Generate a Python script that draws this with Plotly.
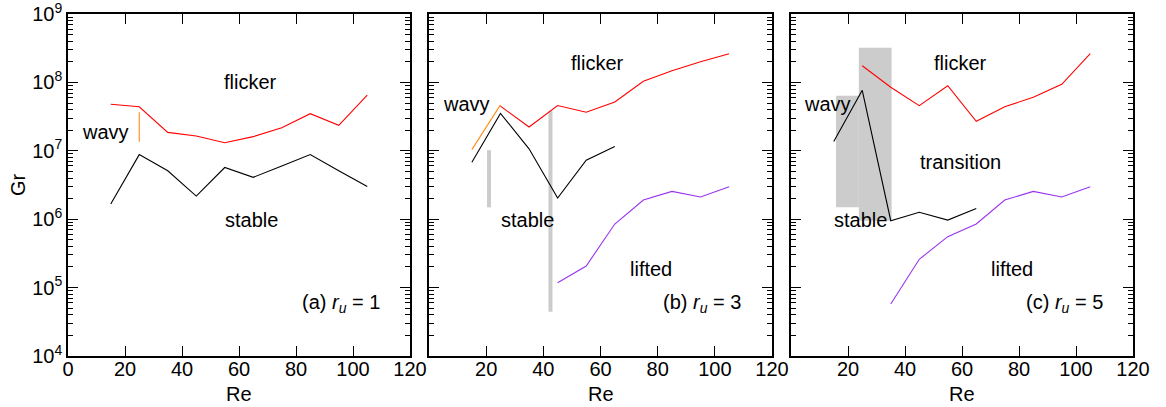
import plotly.graph_objects as go
import numpy as np

# ---------------- data ----------------
# panel (a) r_u = 1
a_flicker_re = [15, 25, 35, 45, 55, 65, 75, 85, 95, 105]
a_flicker_gr = [4.8e7, 4.4e7, 1.86e7, 1.65e7, 1.31e7, 1.61e7, 2.18e7, 3.49e7, 2.36e7, 6.5e7]
a_stable_re = [15, 25, 35, 45, 55, 65, 75, 85, 95, 105]
a_stable_gr = [1.67e6, 8.8e6, 5.1e6, 2.18e6, 5.7e6, 4.1e6, 6.0e6, 8.8e6, 5.1e6, 3.0e6]
a_wavy_re = [25, 25]
a_wavy_gr = [1.36e7, 3.66e7]

# panel (b) r_u = 3
b_flicker_re = [25, 35, 45, 55, 65, 75, 85, 95, 105]
b_flicker_gr = [4.5e7, 2.23e7, 4.6e7, 3.66e7, 5.17e7, 1.04e8, 1.48e8, 2.01e8, 2.63e8]
b_wavy_re = [15, 25]
b_wavy_gr = [1.04e7, 4.7e7]
b_stable_re = [15, 25, 35, 45, 55, 65]
b_stable_gr = [6.8e6, 3.53e7, 1.07e7, 2.04e6, 7.3e6, 1.16e7]
b_lifted_re = [45, 55, 65, 75, 85, 95, 105]
b_lifted_gr = [1.18e5, 2.07e5, 8.5e5, 1.91e6, 2.55e6, 2.11e6, 2.99e6]
b_bar1_re = [21.0, 21.0]
b_bar1_gr = [1.49e6, 1.02e7]
b_bar2_re = [42.5, 42.5]
b_bar2_gr = [4.44e4, 3.82e7]

# panel (c) r_u = 5
c_flicker_re = [25, 35, 45, 55, 65, 75, 85, 95, 105]
c_flicker_gr = [1.75e8, 8.5e7, 4.57e7, 8.95e7, 2.7e7, 4.42e7, 6.05e7, 9.4e7, 2.63e8]
c_stable_re = [15, 25, 35, 45, 55, 65]
c_stable_gr = [1.37e7, 7.66e7, 9.5e5, 1.26e6, 9.7e5, 1.43e6]
c_lifted_re = [35, 45, 55, 65, 75, 85, 95, 105]
c_lifted_gr = [5.75e4, 2.59e5, 5.56e5, 8.5e5, 1.91e6, 2.55e6, 2.11e6, 2.99e6]
c_box1_re = [15.8, 23.8]
c_box1_gr = [1.49e6, 6.4e7]
c_box2_re = [23.8, 35.3]
c_box2_gr = [9.5e5, 3.22e8]

x_ticks_a = [0, 20, 40, 60, 80, 100, 120]
x_ticks_bc = [20, 40, 60, 80, 100, 120]
y_decades = [1e4, 1e5, 1e6, 1e7, 1e8, 1e9]
y_ticktext = ["10<sup>4</sup>", "10<sup>5</sup>", "10<sup>6</sup>", "10<sup>7</sup>",
              "10<sup>8</sup>", "10<sup>9</sup>"]
y_minor = [m * d for d in y_decades[:-1] for m in range(2, 10)]

# ---------------- style ----------------
FONT = "Liberation Sans, Arial, Helvetica, sans-serif"
FS = 20
RED = "#ff0000"
BLACK = "#000000"
ORANGE = "#ff8c1a"
PURPLE = "#9933ee"
GREY = "#cccccc"

fig = go.Figure()


def line(x, y, color, xa, ya, width=1.1):
    fig.add_trace(go.Scatter(x=x, y=y, mode="lines", line=dict(color=color, width=width),
                             xaxis=xa, yaxis=ya, showlegend=False, hoverinfo="skip"))


def box(re_rng, gr_rng, xa, ya):
    x0, x1 = re_rng
    y0, y1 = gr_rng
    fig.add_trace(go.Scatter(x=[x0, x1, x1, x0, x0], y=[y0, y0, y1, y1, y0], mode="lines",
                             fill="toself", fillcolor=GREY, line=dict(width=0, color=GREY),
                             xaxis=xa, yaxis=ya, showlegend=False, hoverinfo="skip"))


# panel a
line(a_wavy_re, a_wavy_gr, ORANGE, "x", "y")
line(a_flicker_re, a_flicker_gr, RED, "x", "y")
line(a_stable_re, a_stable_gr, BLACK, "x", "y")

# panel b
line(b_bar1_re, b_bar1_gr, GREY, "x2", "y2", width=4)
line(b_bar2_re, b_bar2_gr, GREY, "x2", "y2", width=4)
line(b_wavy_re, b_wavy_gr, ORANGE, "x2", "y2")
line(b_flicker_re, b_flicker_gr, RED, "x2", "y2")
line(b_stable_re, b_stable_gr, BLACK, "x2", "y2")
line(b_lifted_re, b_lifted_gr, PURPLE, "x2", "y2")

# panel c
box(c_box1_re, c_box1_gr, "x3", "y3")
box(c_box2_re, c_box2_gr, "x3", "y3")
line(c_flicker_re, c_flicker_gr, RED, "x3", "y3")
line(c_stable_re, c_stable_gr, BLACK, "x3", "y3")
line(c_lifted_re, c_lifted_gr, PURPLE, "x3", "y3")

W, H = 1166, 407
ydom = [1 - 356 / H, 1 - 14 / H]
xdoms = [[68 / W, 410 / W], [429 / W, 772 / W], [791 / W, 1133 / W]]

common_x = dict(range=[0, 120], ticks="inside", ticklen=10, tickwidth=1.2, tickcolor="black",
                showline=True, linecolor="black", linewidth=1.6, mirror="allticks",
                showgrid=False, zeroline=False, automargin=False, ticklabelstandoff=-6,
                ticklabeloverflow="allow",
                tickfont=dict(family=FONT, size=FS, color="black"))
common_y = dict(type="log", range=[np.log10(y_decades[0]) - 0.0005, np.log10(y_decades[-1]) + 0.0005],
                tickvals=y_decades, ticktext=y_ticktext, ticks="inside",
                ticklen=10, tickwidth=1.2, tickcolor="black", showline=True, linecolor="black",
                linewidth=1.6, mirror="allticks", showgrid=False, zeroline=False, automargin=False,
                ticklabeloverflow="allow",
                tickfont=dict(family=FONT, size=FS, color="black"),
                minor=dict(ticks="inside", ticklen=5, tickwidth=1, tickcolor="black",
                           tickvals=y_minor, showgrid=False))

layout = dict(width=W, height=H, margin=dict(l=0, r=0, t=0, b=0),
              paper_bgcolor="white", plot_bgcolor="white",
              font=dict(family=FONT, size=FS, color="black"))

layout["xaxis"] = dict(common_x, domain=xdoms[0], anchor="y", tickvals=x_ticks_a)
layout["xaxis2"] = dict(common_x, domain=xdoms[1], anchor="y2", tickvals=x_ticks_bc)
layout["xaxis3"] = dict(common_x, domain=xdoms[2], anchor="y3", tickvals=x_ticks_bc)
layout["yaxis"] = dict(common_y, domain=ydom, anchor="x")
layout["yaxis2"] = dict(common_y, domain=ydom, anchor="x2", showticklabels=False)
layout["yaxis3"] = dict(common_y, domain=ydom, anchor="x3", showticklabels=False)

fig.update_layout(**layout)

# axis titles
for xd in xdoms:
    fig.add_annotation(x=(xd[0] + xd[1]) / 2, y=1 - 394 / H, xref="paper", yref="paper", text="Re",
                       showarrow=False, font=dict(family=FONT, size=FS, color="black"),
                       xanchor="center", yanchor="middle")
fig.add_annotation(x=18 / W, y=(ydom[0] + ydom[1]) / 2, xref="paper", yref="paper", text="Gr",
                   textangle=-90, showarrow=False, font=dict(family=FONT, size=FS, color="black"),
                   xanchor="center", yanchor="middle")

# region labels
labels = [
    ("x", "y", 64, 1e8, "flicker"),
    ("x", "y", 13, 1.86e7, "wavy"),
    ("x", "y", 64.5, 9.6e5, "stable"),
    ("x2", "y2", 59, 1.94e8, "flicker"),
    ("x2", "y2", 13, 4.8e7, "wavy"),
    ("x2", "y2", 34.3, 9.6e5, "stable"),
    ("x2", "y2", 77.5, 1.9e5, "lifted"),
    ("x3", "y3", 59.3, 1.94e8, "flicker"),
    ("x3", "y3", 12.7, 4.8e7, "wavy"),
    ("x3", "y3", 59.3, 6.8e6, "transition"),
    ("x3", "y3", 24.4, 9.6e5, "stable"),
    ("x3", "y3", 77.4, 1.9e5, "lifted"),
]
for xr, yr, xv, yv, t in labels:
    fig.add_annotation(x=xv, y=np.log10(yv), xref=xr, yref=yr, text=t, showarrow=False,
                       font=dict(family=FONT, size=FS, color="black"), xanchor="center", yanchor="middle")

panel_tags = [("x", "y", "(a)", "1"), ("x2", "y2", "(b)", "3"), ("x3", "y3", "(c)", "5")]
for xr, yr, tag, val in panel_tags:
    fig.add_annotation(x=110, y=4.77, xref=xr, yref=yr,
                       text=f"{tag} <i>r</i><sub><i>u</i></sub> = {val}", showarrow=False,
                       font=dict(family=FONT, size=FS, color="black"), xanchor="right", yanchor="middle")

fig.write_html("out.html")
